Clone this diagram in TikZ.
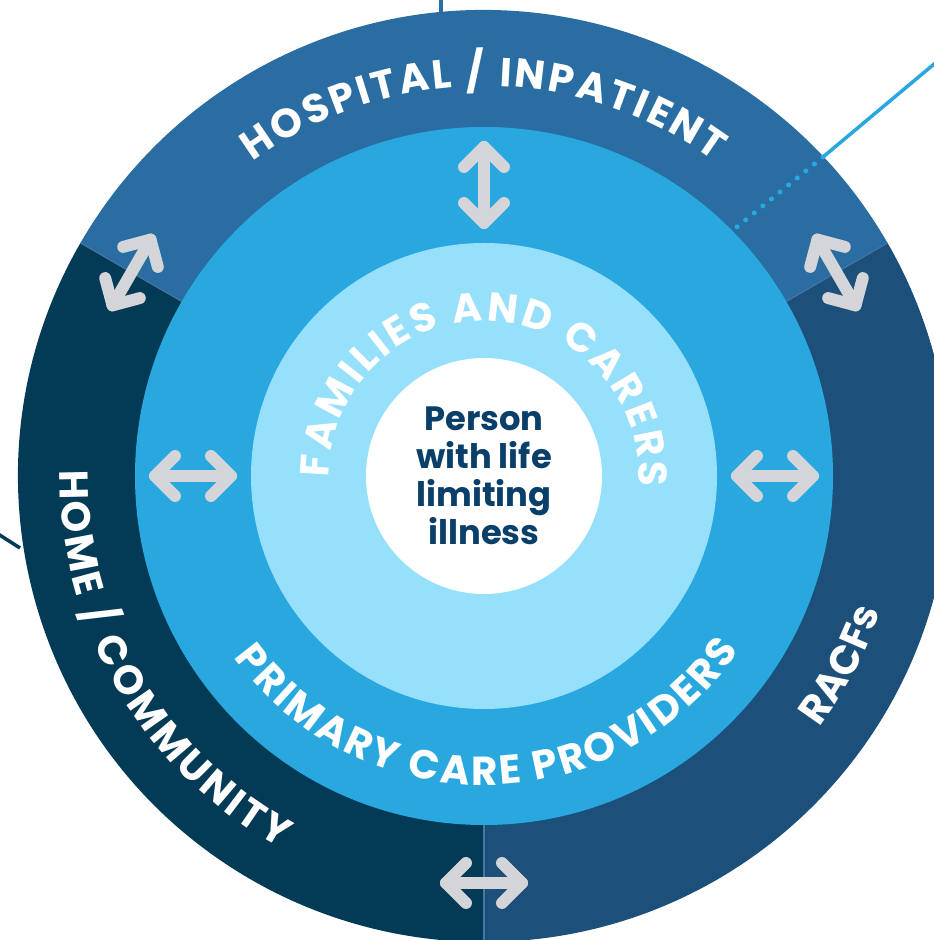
\documentclass[tikz,border=0pt]{standalone}
\usepackage{fontspec}
\setmainfont{Poppins}
\usepackage{tikz}
\usetikzlibrary{decorations.text}
\definecolor{hospblue}{RGB}{42,109,162}
\definecolor{homenavy}{RGB}{3,58,86}
\definecolor{racfblue}{RGB}{28,79,121}
\definecolor{careblue}{RGB}{41,168,224}
\definecolor{familyblue}{RGB}{150,224,251}
\definecolor{arrowgray}{RGB}{211,213,216}
\definecolor{personnavy}{RGB}{10,63,105}
\definecolor{seamblue}{RGB}{72,118,160}

\begin{document}
\begin{tikzpicture}[
    x=0.01cm, y=0.01cm,
    ringlabel/.style={decorate, decoration={text along path, text align={fit to path},
        text color=white, text={|\fontsize{11.5}{14}\selectfont\bfseries|#1}}},
    arrowline/.style={draw=arrowgray, line width=3.4pt, line cap=round, line join=round},
    leader/.style={line width=1pt},
    twoway/.pic={
        \draw[arrowline] (-38,0) -- (38,0);
        \draw[arrowline] (18,20) -- (38,0) -- (18,-20);
        \draw[arrowline] (-18,20) -- (-38,0) -- (-18,-20);
    }
]
\useasboundingbox (-484,-464) rectangle (450,476);
\clip (-484,-464) rectangle (450,476);

% outer settings
\fill[hospblue] (0,0) -- (30:466) arc[start angle=30, end angle=150, radius=466] -- cycle;
\fill[homenavy] (0,0) -- (150:466) arc[start angle=150, end angle=270, radius=466] -- cycle;
\fill[racfblue] (0,0) -- (270:466) arc[start angle=270, end angle=390, radius=466] -- cycle;
\foreach \a in {30,150,270}
    \draw[seamblue, line width=0.3pt] (\a:349) -- (\a:466);

% inner rings
\fill[careblue] (0,0) circle[radius=349];
\fill[familyblue] (0,0) circle[radius=233];
\fill[white] (0,0) circle[radius=118];

\node[font=\bfseries\fontsize{9.6}{10.8}\selectfont, text=personnavy, align=center]
    (person) at (0,0) {Person\\with life\\limiting\\illness};

% ring labels
\path[ringlabel={HOSPITAL / INPATIENT}] (126.3:390) arc[start angle=126.3, end angle=53.8, radius=390];
\path[ringlabel={FAMILIES AND CARERS}] (180.4:155) arc[start angle=180.4, end angle=-4, radius=155];
\path[ringlabel={PRIMARY CARE PROVIDERS}] (216:309) arc[start angle=216, end angle=325.6, radius=309];
\path[ringlabel={HOME / COMMUNITY}] (179.2:424) arc[start angle=179.2, end angle=241.3, radius=424];
\path[ringlabel={RACFs}] (-36.8:419) arc[start angle=-36.8, end angle=-19.1, radius=419];

% two-way arrows
\foreach \a in {30,150,270}
    \pic[rotate=\a+90] at (\a:407) {twoway};
\foreach \a in {0,90,180}
    \pic[rotate=\a] at (\a:291) {twoway};

% leader lines
\coordinate (topfree) at (-43,490);
\coordinate (topend) at (-43,464);
\coordinate (bluefree) at (480,437);
\coordinate (dotstart) at (339,319);
\coordinate (dotend) at (253,249);
\coordinate (leftfree) at (-500,-49);
\coordinate (leftend) at (-464,-72);
\draw[hospblue, leader] (topfree) -- (topend);
\draw[careblue, leader] (bluefree) -- (dotstart);
\draw[careblue, line width=1.45pt, line cap=round, dash pattern=on 0pt off 3.15pt] (dotstart) -- (dotend);
\draw[homenavy, leader] (leftfree) -- (leftend);
\end{tikzpicture}
\end{document}
